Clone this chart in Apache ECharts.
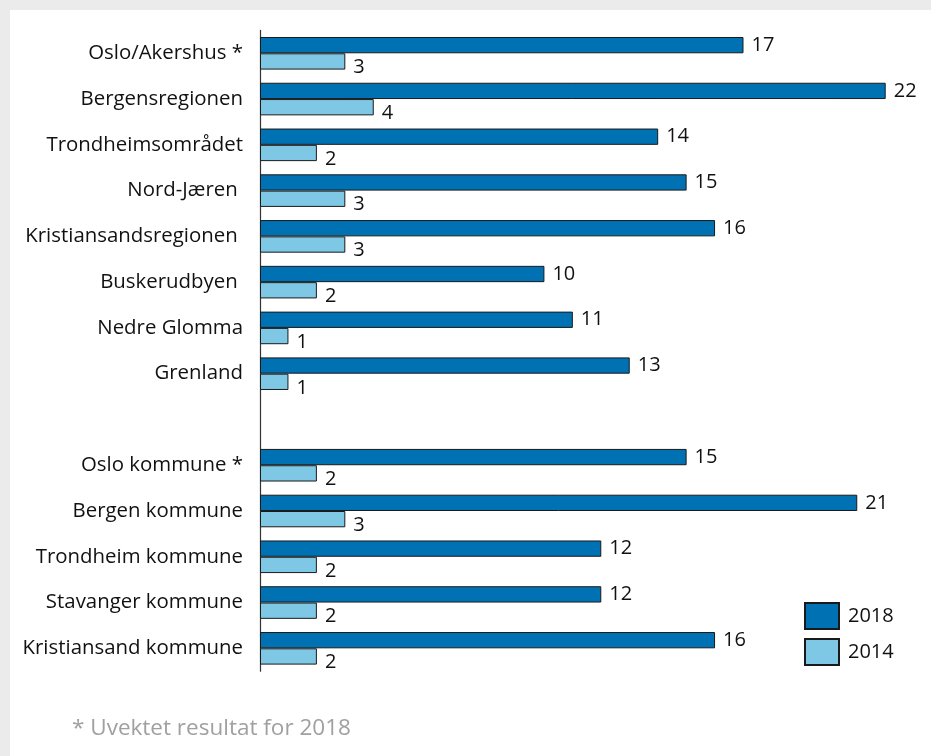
<!DOCTYPE html>
<html>
<head>
<meta charset="utf-8">
<script src="https://cdn.jsdelivr.net/npm/echarts@6/dist/echarts.min.js"></script>
<style>
  html, body { margin: 0; padding: 0; background: #ebebeb; }
  #panel { position: absolute; left: 10px; top: 10px; width: 921px; height: 746px; background: #ffffff; }
  #chart { position: absolute; left: 0; top: 0; width: 931px; height: 756px; }
</style>
</head>
<body>
<div id="panel"></div>
<div id="chart"></div>
<script>
// Regions and municipalities; the empty entry separates the two groups.
const categories = [
  'Oslo/Akershus *', 'Bergensregionen', 'Trondheimsområdet', 'Nord-Jæren ',
  'Kristiansandsregionen ', 'Buskerudbyen ', 'Nedre Glomma', 'Grenland',
  '',
  'Oslo kommune *', 'Bergen kommune', 'Trondheim kommune', 'Stavanger kommune',
  'Kristiansand kommune'
];
const values2018 = [17, 22, 14, 15, 16, 10, 11, 13, null, 15, 21, 12, 12, 16];
const values2014 = [3, 4, 2, 3, 3, 2, 1, 1, null, 2, 3, 2, 2, 2];
const seriesNames = ['2018', '2014'];
const footnote = '* Uvektet resultat for 2018';

const FONT = 'Open Sans';
const FS = 20.4;
const chart = echarts.init(document.getElementById('chart'), null, { renderer: 'canvas' });

const labelStyle = {
  show: true,
  position: 'right',
  distance: 8,
  color: '#111',
  fontFamily: FONT,
  fontSize: 20
};

chart.setOption({
  backgroundColor: 'transparent',
  animation: false,
  textStyle: { fontFamily: FONT },
  grid: { left: 260, top: 30.4, height: 640.8, right: 45.3 },
  xAxis: {
    type: 'value', min: 0, max: 22, show: false
  },
  yAxis: {
    type: 'category',
    data: categories,
    inverse: true,
    axisLine: { show: true, lineStyle: { color: '#333', width: 1.2 } },
    axisTick: { show: false },
    axisLabel: { color: '#111', fontFamily: FONT, fontSize: FS, margin: 17 }
  },
  legend: {
    orient: 'vertical',
    left: 804, top: 602, padding: 0,
    itemWidth: 34, itemHeight: 26, itemGap: 8,
    icon: 'rect',
    data: seriesNames,
    textStyle: { color: '#111', fontFamily: FONT, fontSize: 20, padding: [0, 0, 0, 4] }
  },
  graphic: [{
    type: 'text', left: 72, top: 717,
    style: { text: footnote, fill: '#a0a0a0', font: '22.5px "' + FONT + '"' }
  }],
  series: [
    {
      name: seriesNames[0], type: 'bar', data: values2018,
      barGap: '0%', barCategoryGap: '28.8%',
      itemStyle: { color: '#0071B3', borderColor: '#1a1a1a', borderWidth: 1 },
      label: labelStyle
    },
    {
      name: seriesNames[1], type: 'bar', data: values2014,
      itemStyle: { color: '#7FC8E5', borderColor: '#1a1a1a', borderWidth: 1 },
      label: Object.assign({}, labelStyle, { offset: [0, 6] })
    }
  ]
});
</script>
</body>
</html>
